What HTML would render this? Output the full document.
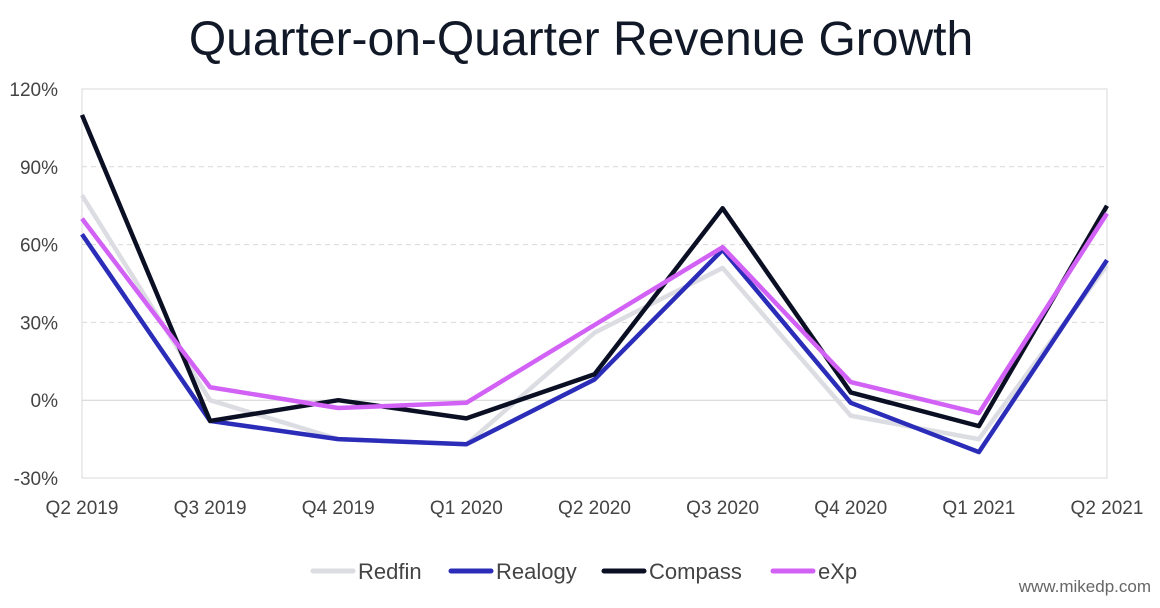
<!DOCTYPE html>
<html><head><meta charset="utf-8"><style>
body{margin:0;background:#fff;font-family:"Liberation Sans",sans-serif}
</style></head><body>
<svg id="c" width="1160" height="603">
<text x="581" y="55" text-anchor="middle" font-size="48" fill="#111827">Quarter-on-Quarter Revenue Growth</text>
<rect x="82" y="89" width="1025" height="389" fill="none" stroke="#d9d9d9"/>
<g id="grid"></g><g id="lines"></g><g id="legend"></g>
<text x="1151" y="592" text-anchor="end" font-size="17" fill="#666">www.mikedp.com</text>
</svg>
<script>
const categories=["Q2 2019","Q3 2019","Q4 2019","Q1 2020","Q2 2020","Q3 2020","Q4 2020","Q1 2021","Q2 2021"];
const yTicks=[-30,0,30,60,90,120];
const redfin=[79,0,-15,-17,26,51,-6,-15,52];
const realogy=[64,-8,-15,-17,8,58,-1,-20,54];
const compass=[110,-8,0,-7,10,74,3,-10,75];
const exp=[70,5,-3,-1,29,59,7,-5,72];
const seriesNames=["Redfin","Realogy","Compass","eXp"];
const seriesData=[redfin,realogy,compass,exp];
const seriesColors=["#dcdce3","#2b2db8","#0b0f24","#d262f5"];
const ns="http://www.w3.org/2000/svg";
const x=i=>82+i*(1025/(categories.length-1));
const y=v=>478-(v+30)*(389/150);
function mk(t,a,p){const e=document.createElementNS(ns,t);for(const k in a)e.setAttribute(k,a[k]);p.appendChild(e);return e;}
const g=document.getElementById('grid');
yTicks.forEach(v=>{
 if(v>-30&&v<120){const l=mk('line',{x1:82,x2:1107,y1:y(v),y2:y(v),stroke:v===0?'#d0d0d0':'#d9d9d9','stroke-dasharray':v===0?'':'5,4'},g);
 
 }
 const t=mk('text',{x:58,y:y(v)+7,'text-anchor':'end','font-size':19,fill:'#444'},g);t.textContent=v+'%';
 
 
});
categories.forEach((c,i)=>{
 const t=mk('text',{x:x(i),y:514,'text-anchor':'middle','font-size':19,fill:'#444'},g);t.textContent=c;
 
 
});
const L=document.getElementById('lines');
seriesData.forEach((d,k)=>{
 const p=mk('polyline',{points:d.map((v,i)=>x(i)+','+y(v)).join(' '),fill:'none',stroke:seriesColors[k],'stroke-width':4.5,'stroke-linejoin':'round'},L);
 
 
});
const lg=document.getElementById('legend');
const swatchStart=[313,451,604,773];
seriesNames.forEach((n,k)=>{
 const sx=swatchStart[k];
 const seg=mk('line',{x1:sx,x2:sx+40,y1:571,y2:571,stroke:seriesColors[k],'stroke-width':5,'stroke-linecap':'round'},lg);
 
 
 const t=mk('text',{x:sx+45,y:579,'font-size':22,fill:'#444'},lg);t.textContent=n;
 
 
});
</script>
</body></html>
